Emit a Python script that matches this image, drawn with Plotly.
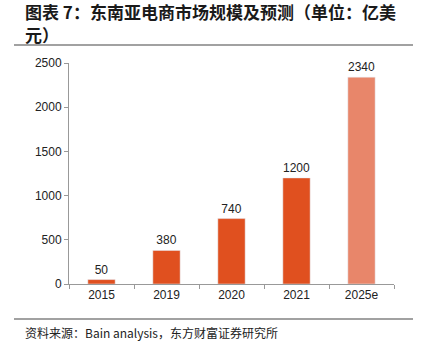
import plotly.graph_objects as go

categories = ["2015", "2019", "2020", "2021", "2025e"]
values = [50, 380, 740, 1200, 2340]
colors = ["#E0501F", "#E0501F", "#E0501F", "#E0501F", "#E8866A"]
title_line1 = "图表 7：东南亚电商市场规模及预测（单位：亿美"
title_line2 = "元）"
source_text = "资料来源：Bain analysis，东方财富证券研究所"

PW, PH = 325, 221  # plot area size in px


def px(dx):
    return dx / PW


def py(dy):
    return dy / PH


fig = go.Figure()
fig.add_trace(go.Bar(
    x=categories, y=values, marker_color=colors,
    text=[str(v) for v in values], textposition="outside",
    textfont=dict(family="Liberation Sans, Arial", size=12, color="#222"),
    cliponaxis=False, width=0.42,
))

fig.update_layout(
    width=421, height=353,
    margin=dict(l=69, r=27, t=63, b=69),
    paper_bgcolor="white", plot_bgcolor="white",
    showlegend=False,
    font=dict(family="Liberation Sans, Arial", size=12, color="#222"),
)
fig.update_xaxes(
    showline=True, linecolor="#999", linewidth=1,
    ticks="outside", tickson="boundaries", ticklen=4, tickcolor="#999",
    tickfont=dict(size=12, color="#222"),
)
fig.update_yaxes(
    range=[0, 2500], dtick=500, showgrid=False, zeroline=False,
    showline=True, linecolor="#999", linewidth=1,
    ticks="outside", ticklen=4, tickcolor="#999",
    tickfont=dict(size=12, color="#222"),
)

title_font = dict(family="Noto Sans CJK SC", size=17, color="#1a1a1a")
fig.add_annotation(
    text="<b>" + title_line1 + "</b>", xref="paper", yref="paper",
    x=px(-45), y=1 + py(63 - 12), xanchor="left", yanchor="middle",
    showarrow=False, align="left", font=title_font, borderpad=0,
)
fig.add_annotation(
    text="<b>" + title_line2 + "</b>", xref="paper", yref="paper",
    x=px(-45), y=1 + py(63 - 34), xanchor="left", yanchor="middle",
    showarrow=False, align="left", font=title_font, borderpad=0,
)
fig.add_shape(type="line", xref="paper", yref="paper",
              x0=px(-55), x1=px(344), y0=1 + py(18), y1=1 + py(18),
              line=dict(color="#444", width=1.2))
fig.add_shape(type="line", xref="paper", yref="paper",
              x0=px(-55), x1=px(344), y0=py(-35), y1=py(-35),
              line=dict(color="#444", width=1.2))
fig.add_annotation(
    text=source_text, xref="paper", yref="paper",
    x=px(-46), y=py(-38), xanchor="left", yanchor="top",
    showarrow=False, align="left",
    font=dict(family="Noto Sans CJK SC", size=12, color="#222"),
)

fig.write_html("out.html")
